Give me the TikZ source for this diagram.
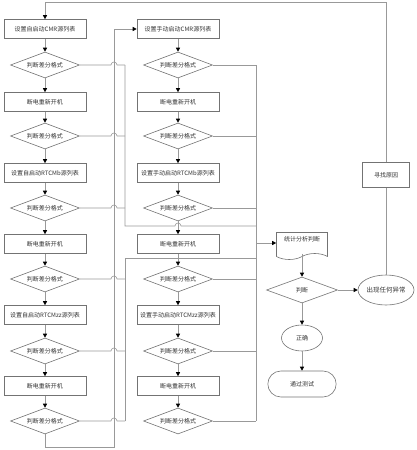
\documentclass[tikz,border=0pt]{standalone}
\usepackage{fontspec}
\setmainfont{Noto Sans CJK SC}
\usetikzlibrary{shapes.geometric,shapes.symbols,shapes.misc,arrows.meta,calc}
\tikzstyle{flow-text} = [font=\fontsize{6}{7}\selectfont, text=black!80]
\tikzstyle{flow-box} = [flow-text, draw=black!55, rectangle, line width=0.6pt,
    minimum width=82pt, minimum height=19pt, inner sep=0.5pt]
\tikzstyle{flow-check} = [flow-text, draw=black!55, diamond, aspect=2.6, line width=0.6pt,
    minimum width=69pt, minimum height=26pt, inner sep=0pt]
\tikzstyle{flow-oval} = [flow-text, draw=black!55, ellipse, line width=0.6pt, inner sep=0pt]
\tikzstyle{flow-doc} = [flow-text, draw=black!55, tape, tape bend top=none, tape bend height=6pt,
    line width=0.6pt, minimum width=51pt, minimum height=27pt, text depth=9pt]
\tikzstyle{flow-end} = [flow-text, draw=black!55, rounded rectangle, line width=0.6pt,
    minimum width=75pt, minimum height=26pt]
\tikzstyle{flow-line} = [draw=black!40, line width=0.6pt]
\tikzstyle{flow-arrow} = [flow-line, -{Triangle[length=4pt,width=4pt,color=black]}]

\begin{document}
\begin{tikzpicture}[x=1pt, y=-1pt]
\useasboundingbox (0,0) rectangle (416,450);

% two test columns: automatic start (l) and manual start (m)
\foreach \col/\cx/\pre in {l/45/设置自启动, m/178/设置手动启动} {
    \node[flow-box] (\col b1) at (\cx,29) {\pre CMR源列表};
    \node[flow-check] (\col d1) at (\cx,65) {判断差分格式};
    \node[flow-box] (\col b2) at (\cx,102) {断电重新开机};
    \node[flow-check] (\col d2) at (\cx,136) {判断差分格式};
    \node[flow-box] (\col b3) at (\cx,173) {\pre RTCMb源列表};
    \node[flow-check] (\col d3) at (\cx,208) {判断差分格式};
    \node[flow-box] (\col b4) at (\cx,244) {断电重新开机};
    \node[flow-check] (\col d4) at (\cx,279) {判断差分格式};
    \node[flow-box] (\col b5) at (\cx,315) {\pre RTCMzz源列表};
    \node[flow-check] (\col d5) at (\cx,351) {判断差分格式};
    \node[flow-box] (\col b6) at (\cx,386) {断电重新开机};
    \node[flow-check] (\col d6) at (\cx,421) {判断差分格式};
}

% evaluation part
\node[flow-doc] (stat) at (302,243) {统计分析判断};
\node[flow-check, minimum width=71pt] (judge) at (302,290) {判断};
\node[flow-oval, minimum width=56pt, minimum height=30pt, font=\fontsize{6.5}{7}\selectfont] (fault) at (386,290) {出现任何异常};
\node[flow-box, minimum width=47pt, minimum height=25pt] (cause) at (386,175) {寻找原因};
\node[flow-oval, minimum width=41pt, minimum height=26pt] (ok) at (302,338) {正确};
\node[flow-end] (pass) at (302,384) {通过测试};

\coordinate (jn1) at (125,226);
\coordinate (jn2) at (125,258);
\coordinate (busM) at (256,243);
\coordinate (ret) at (114,447);
\coordinate (top) at (45,2);

% main flow
\foreach \col in {l,m} {
    \foreach \i in {1,...,6}
        \draw[flow-arrow] (\col b\i) -- (\col d\i);
    \foreach \i [count=\j from 2] in {1,...,5}
        \draw[flow-arrow] (\col d\i) -- (\col b\j);
}

% failed checks
\foreach \i in {1,...,6}
    \draw[flow-line] (ld\i.east) -- ($(ld\i.east -| ret)+(-3pt,0)$)
        arc[start angle=180, end angle=0, radius=3pt] -- (ld\i.east -| jn1);
\draw[flow-line] (ld1.east -| jn1) -- (jn1) -- ($(jn1 -| mb4)+(-3pt,0)$)
    arc[start angle=180, end angle=0, radius=3pt] -- (jn1 -| busM);
\draw[flow-line] (ld6.east -| jn2) -- (jn2) -- (jn2 -| busM);
\foreach \i in {1,...,6}
    \draw[flow-line] (md\i.east) -- (md\i.east -| busM);
\draw[flow-line] (md1.east -| busM) -- (md6.east -| busM);
\draw[flow-arrow] (busM) -- (stat.west);

% from automatic to manual
\draw[flow-arrow] (ld6.south) |- (ret) |- (mb1.west);

\draw[flow-arrow] (stat.south) -- (judge.north);
\draw[flow-arrow] (judge.east) -- (fault.west);
\draw[flow-arrow] (judge.south) -- (ok.north);
\draw[flow-arrow] (ok.south) -- (pass.north);
\draw[flow-line] (fault.north) -- (cause.south);
\draw[flow-arrow] (cause.north) |- (top) -- (lb1.north);
\end{tikzpicture}
\end{document}
